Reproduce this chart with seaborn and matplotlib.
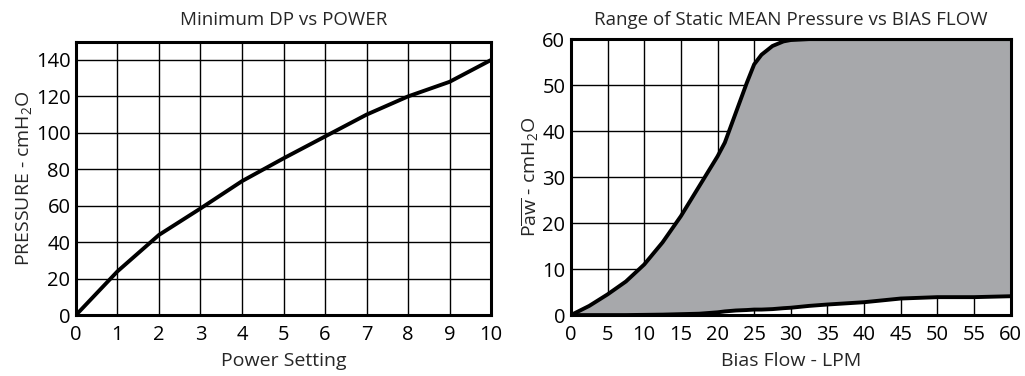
import numpy as np
import pandas as pd
import matplotlib
matplotlib.use('Agg')
import matplotlib.pyplot as plt
import seaborn as sb

# Left chart: minimum DP vs power setting
power = [0, 1, 2, 3, 4, 5, 6, 7, 8, 9, 10]
pressure = [0, 24, 44, 58.5, 73.5, 86, 98, 110, 120, 128, 140]

# Right chart: range of static mean pressure vs bias flow
flow = [0, 2.5, 5, 7.5, 10, 12.5, 15, 17.5, 20, 21, 22.5, 24, 25, 26, 27.5, 29, 30, 32.5, 35, 40, 45, 50, 55, 60]
paw_max = [0, 2, 4.5, 7.3, 11, 15.8, 21.5, 28, 34.5, 37.5, 44, 50.5, 54.5, 56.6, 58.5, 59.5, 59.8, 60, 60, 60, 60, 60, 60, 60]
paw_min = [0, 0, 0, 0, 0.05, 0.1, 0.2, 0.3, 0.6, 0.8, 1.0, 1.1, 1.2, 1.2, 1.3, 1.5, 1.6, 2.0, 2.3, 2.8, 3.6, 3.9, 3.9, 4.1]

sb.set_theme(style='white')
plt.rcParams['font.family'] = ['Open Sans', 'DejaVu Sans']
plt.rcParams['mathtext.fontset'] = 'custom'
plt.rcParams['mathtext.rm'] = 'Open Sans'
plt.rcParams['mathtext.it'] = 'Open Sans'

fig = plt.figure(figsize=(10.25, 3.76), dpi=100)
ax1 = fig.add_axes([0.0741, 0.162, 0.405, 0.727])
ax2 = fig.add_axes([0.557, 0.162, 0.429, 0.734])

df1 = pd.DataFrame({'power': power, 'pressure': pressure})
sb.lineplot(data=df1, x='power', y='pressure', color='black', linewidth=2.8, ax=ax1, zorder=3)
ax1.set_xlim(0, 10)
ax1.set_ylim(0, 150)
ax1.set_xticks(np.arange(0, 11, 1))
ax1.set_yticks(np.arange(0, 141, 20))
ax1.set_title('Minimum DP vs POWER', fontsize=13.5, pad=12)
ax1.set_xlabel('Power Setting', fontsize=14, labelpad=5)
ax1.set_ylabel('PRESSURE - cmH$_2$O', fontsize=14, labelpad=1)

df2 = pd.DataFrame({'flow': flow, 'max': paw_max, 'min': paw_min})
ax2.fill_between(df2['flow'], df2['min'], df2['max'], color='#a7a8ab', zorder=2, linewidth=0)
sb.lineplot(data=df2, x='flow', y='max', color='black', linewidth=2.8, ax=ax2, zorder=3)
sb.lineplot(data=df2, x='flow', y='min', color='black', linewidth=2.8, ax=ax2, zorder=3)
ax2.set_xlim(0, 60)
ax2.set_ylim(0, 60)
ax2.set_xticks(np.arange(0, 61, 5))
ax2.set_yticks(np.arange(0, 61, 10))
ax2.set_title('Range of Static MEAN Pressure vs BIAS FLOW', fontsize=13.5, pad=10)
ax2.set_xlabel('Bias Flow - LPM', fontsize=14, labelpad=5)
ax2.set_ylabel(r'P$\overline{\mathrm{aw}}$ - cmH$_2$O', fontsize=14, labelpad=1)

for ax in (ax1, ax2):
    ax.grid(True, color='black', linewidth=1.0, zorder=1)
    ax.set_axisbelow(True)
    for s in ax.spines.values():
        s.set_color('black')
        s.set_linewidth(2.2)
        s.set_zorder(4)
    ax.tick_params(length=0, labelsize=14.5, colors='black')
    ax.tick_params(axis='x', pad=7)
    ax.tick_params(axis='y', pad=4)

fig.savefig('out.png', dpi=100)
